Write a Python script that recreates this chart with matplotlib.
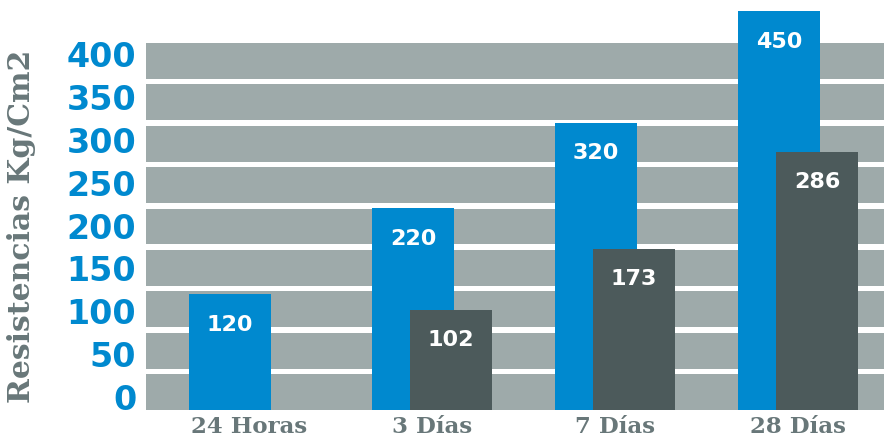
import numpy as np
import matplotlib
matplotlib.use("Agg")
import matplotlib.pyplot as plt
from matplotlib.patches import Rectangle

# ---- data ----
categories = ["24 Horas", "3 Días", "7 Días", "28 Días"]
blue_values = [120, 220, 320, 450]
gray_values = [np.nan, 102, 173, 286]
y_ticks = [0, 50, 100, 150, 200, 250, 300, 350, 400]
y_label = "Resistencias Kg/Cm2"

# ---- style ----
BLUE = "#0089CF"
DARK = "#4C5A5B"
BAND = "#9EAAAA"
TEXT_GRAY = "#687779"

W, H, DPI = 884, 438, 100
fig = plt.figure(figsize=(W / DPI, H / DPI), dpi=DPI)

ax_left = 146 / W
ax_bottom = (H - 410) / H
ax = fig.add_axes([ax_left, ax_bottom, 1 - ax_left, 1 - ax_bottom])

ymin, ymax = -15, 463
ax.set_ylim(ymin, ymax)
ax.set_xlim(-0.563, 3.47)

# background bands (axes fraction)
top_frac = 1 - 43 / 410
n_bands = 9
gap = 5.5 / 410
band_h = (top_frac - gap * (n_bands - 1)) / n_bands
for k in range(n_bands):
    y0 = k * (band_h + gap)
    ax.add_patch(Rectangle((0, y0), 1, band_h, transform=ax.transAxes,
                           facecolor=BAND, edgecolor="none", zorder=0))

x = np.arange(len(categories))
bw = 0.448
off = 0.104
ax.bar(x - off, np.array(blue_values) - ymin, bottom=ymin, width=bw,
       color=BLUE, zorder=2)
gv = np.array(gray_values, dtype=float)
ax.bar(x + off, gv - ymin, bottom=ymin, width=bw, color=DARK, zorder=3)

for xi, v in zip(x - off, blue_values):
    ax.annotate(f"{v}", (xi, v), xytext=(0, -22), textcoords="offset points",
                ha="center", va="center", color="white", fontsize=16,
                fontweight="bold", zorder=5)
for xi, v in zip(x + off, gray_values):
    if np.isnan(v):
        continue
    ax.annotate(f"{int(v)}", (xi, v), xytext=(0, -22), textcoords="offset points",
                ha="center", va="center", color="white", fontsize=16,
                fontweight="bold", zorder=5)

ax.set_yticks(y_ticks)
ax.set_yticklabels([str(t) for t in y_ticks])
ax.tick_params(axis="y", length=0, pad=7, labelsize=24, labelcolor=BLUE)
for lab in ax.get_yticklabels():
    lab.set_fontweight("bold")

ax.set_xticks(x)
ax.set_xticklabels(categories)
ax.tick_params(axis="x", length=0, pad=4, labelsize=16.5, labelcolor=TEXT_GRAY)
for lab in ax.get_xticklabels():
    lab.set_fontweight("bold")
    lab.set_family("DejaVu Serif")

for s in ax.spines.values():
    s.set_visible(False)
ax.set_facecolor("white")

fig.text(22 / W, 1 - 226 / H, y_label, rotation=90, ha="center", va="center",
         fontsize=21.5, fontweight="bold", color=TEXT_GRAY, family="DejaVu Serif")

fig.savefig("out.png", dpi=DPI)
